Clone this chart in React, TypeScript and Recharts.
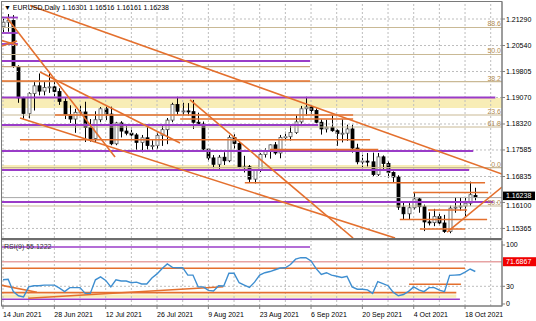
import React from 'react';
import { ComposedChart, Bar, Line, XAxis, YAxis, ReferenceLine, ReferenceArea } from 'recharts';

// ---------- data ----------
const opens = [
  1.2107, 1.2120, 1.2125, 1.1995, 1.1906,
  1.1862, 1.1918, 1.1940, 1.1925, 1.1935,
  1.1937, 1.1924, 1.1896, 1.1858, 1.1846,
  1.1865, 1.1866, 1.1822, 1.1791, 1.1844,
  1.1875, 1.1860, 1.1776, 1.1835, 1.1812,
  1.1806, 1.1801, 1.1780, 1.1793, 1.1771,
  1.1771, 1.1800, 1.1816, 1.1843, 1.1887,
  1.1868, 1.1869, 1.1867, 1.1837, 1.1832,
  1.1761, 1.1736, 1.1718, 1.1738, 1.1728,
  1.1794, 1.1777, 1.1711, 1.1711, 1.1676,
  1.1701, 1.1746, 1.1754, 1.1773, 1.1750,
  1.1794, 1.1796, 1.1808, 1.1838, 1.1875,
  1.1880, 1.1870, 1.1837, 1.1818, 1.1823,
  1.1813, 1.1805, 1.1806, 1.1818, 1.1764,
  1.1725, 1.1727, 1.1725, 1.1689, 1.1739,
  1.1720, 1.1695, 1.1682, 1.1597, 1.1578,
  1.1595, 1.1620, 1.1598, 1.1555, 1.1553,
  1.1570, 1.1552, 1.1528, 1.1594, 1.1597,
  1.1600, 1.1608, 1.16301,
];
const highs = [
  1.2130, 1.2143, 1.2140, 1.1998, 1.1909,
  1.1922, 1.1954, 1.1975, 1.1953, 1.1975,
  1.1952, 1.1933, 1.1905, 1.1885, 1.1875,
  1.1884, 1.1895, 1.1846, 1.1868, 1.1880,
  1.1881, 1.1881, 1.1838, 1.1840, 1.1827,
  1.1822, 1.1806, 1.1801, 1.1832, 1.1786,
  1.1808, 1.1830, 1.1849, 1.1892, 1.1909,
  1.1892, 1.1891, 1.1900, 1.1864, 1.1839,
  1.1764, 1.1744, 1.1744, 1.1752, 1.1800,
  1.1803, 1.1783, 1.1742, 1.1716, 1.1703,
  1.1750, 1.1763, 1.1774, 1.1781, 1.1801,
  1.1810, 1.1830, 1.1857, 1.1883, 1.1909,
  1.1884, 1.1876, 1.1845, 1.1844, 1.1857,
  1.1817, 1.1845, 1.1830, 1.1830, 1.1776,
  1.1745, 1.1750, 1.1751, 1.1750, 1.1743,
  1.1727, 1.1698, 1.1687, 1.1610, 1.1608,
  1.1640, 1.1624, 1.1604, 1.1582, 1.1592,
  1.1581, 1.1575, 1.1601, 1.1625, 1.1624,
  1.1624, 1.1669, 1.16516,
];
const lows = [
  1.2092, 1.2093, 1.1991, 1.1892, 1.1847,
  1.1848, 1.1870, 1.1913, 1.1913, 1.1920,
  1.1910, 1.1886, 1.1846, 1.1835, 1.1807,
  1.1856, 1.1781, 1.1782, 1.1781, 1.1837,
  1.1843, 1.1772, 1.1772, 1.1794, 1.1800,
  1.1791, 1.1753, 1.1752, 1.1760, 1.1755,
  1.1761, 1.1770, 1.1775, 1.1837, 1.1858,
  1.1856, 1.1855, 1.1818, 1.1830, 1.1755,
  1.1726, 1.1707, 1.1705, 1.1716, 1.1724,
  1.1762, 1.1707, 1.1695, 1.1665, 1.1664,
  1.1696, 1.1737, 1.1734, 1.1745, 1.1735,
  1.1785, 1.1785, 1.1804, 1.1826, 1.1855,
  1.1860, 1.1834, 1.1802, 1.1808, 1.1810,
  1.1770, 1.1780, 1.1784, 1.1751, 1.1718,
  1.1700, 1.1712, 1.1684, 1.1685, 1.1701,
  1.1679, 1.1668, 1.1589, 1.1563, 1.1562,
  1.1590, 1.1581, 1.1529, 1.1545, 1.1543,
  1.1545, 1.1524, 1.1523, 1.1581, 1.1587,
  1.1571, 1.1601, 1.16161,
];
const closes = [
  1.2120, 1.2125, 1.1995, 1.1906, 1.1862,
  1.1918, 1.1940, 1.1925, 1.1935, 1.1937,
  1.1924, 1.1896, 1.1858, 1.1846, 1.1865,
  1.1866, 1.1822, 1.1791, 1.1844, 1.1875,
  1.1860, 1.1776, 1.1835, 1.1812, 1.1806,
  1.1801, 1.1780, 1.1793, 1.1771, 1.1771,
  1.1800, 1.1816, 1.1843, 1.1887, 1.1868,
  1.1869, 1.1867, 1.1837, 1.1832, 1.1761,
  1.1736, 1.1718, 1.1738, 1.1728, 1.1794,
  1.1777, 1.1711, 1.1711, 1.1676, 1.1701,
  1.1746, 1.1754, 1.1773, 1.1750, 1.1794,
  1.1796, 1.1808, 1.1838, 1.1875, 1.1880,
  1.1870, 1.1837, 1.1818, 1.1823, 1.1813,
  1.1805, 1.1806, 1.1818, 1.1764, 1.1725,
  1.1727, 1.1725, 1.1689, 1.1739, 1.1720,
  1.1695, 1.1682, 1.1597, 1.1578, 1.1595,
  1.1620, 1.1598, 1.1555, 1.1553, 1.1570,
  1.1552, 1.1528, 1.1594, 1.1597, 1.1600,
  1.1608, 1.1632, 1.16238,
];
const rsiValues = [
  41, 42, 21, 14, 12,
  29, 31, 31, 32, 32,
  32, 27, 21, 27.7, 27.7,
  27.7, 18, 18, 41, 46,
  40, 29, 41, 39, 39,
  36, 37, 34, 34, 44,
  51, 60, 68, 62, 61.5,
  61.5, 49, 49, 29, 29,
  23, 22, 31, 30.5, 52,
  52, 36, 32, 28, 37,
  49, 53, 55, 58, 61,
  61.5, 67, 76, 78.5, 78.5,
  73, 60, 50, 53, 49,
  47, 45, 47, 29, 25,
  25, 24, 18, 38, 34.5,
  31, 20, 14, 16, 21.5,
  29, 24, 21, 27.7, 27.7,
  23.5, 21, 48.5, 49, 49.5,
  54, 59.3, 55.1,
];

const priceTicks = [1.15365, 1.161, 1.16835, 1.17585, 1.1832, 1.1907, 1.19805, 1.2054, 1.2129];
const rsiTicks = [0, 30, 100];
const dateTickIdx = [0, 10, 20, 30, 40, 50, 60, 70, 80, 90];
const dateTickLabels = ['14 Jun 2021', '28 Jun 2021', '12 Jul 2021', '26 Jul 2021', '9 Aug 2021', '23 Aug 2021', '6 Sep 2021', '20 Sep 2021', '4 Oct 2021', '18 Oct 2021'];
const weekIdx = [0, 5, 10, 15, 20, 25, 30, 35, 40, 45, 50, 55, 60, 65, 70, 75, 80, 85, 90, 95];

const headerText = '\u25BC EURUSD,Daily  1.16301 1.16516 1.16161 1.16238';
const rsiHeader = 'RSI(9) 55.1222';
const lastPrice = 1.16238;
const rsiMarker = 71.6867;

// drawn objects (data units: bar index, price)
const purpleLevels = [
  { p: 1.21332, from: -1, to: 2.9 },
  { p: 1.20894, from: -1, to: 2.9 },
  { p: 1.20583, from: -1, to: 2.9 },
  { p: 1.20102, from: -1, to: 59.8 },
  { p: 1.19069, from: -1, to: 95.9 },
  { p: 1.18291, from: -1, to: 61.4 },
  { p: 1.17556, from: -1, to: 91.6 },
  { p: 1.17019, from: -1, to: 90.8 },
  { p: 1.16113, from: -1, to: 95.5 },
];
const orangeLevels = [
  { p: 1.19536, from: -1, to: 59.8 },
  { p: 1.18574, from: 10.1, to: 68.2 },
  { p: 1.18461, from: 34.5, to: 68.2 },
  { p: 1.17874, from: 3.3, to: 71.5 },
  { p: 1.17596, from: 52, to: 73.1 },
  { p: 1.16659, from: 47.1, to: 93.9 },
  { p: 1.16382, from: 79.9, to: 94.5 },
  { p: 1.15887, from: 82.8, to: 90.4 },
  { p: 1.15618, from: 77.3, to: 94.3 },
  { p: 1.15349, from: 81.2, to: 90 },
];
const fibLevels = [
  { p: 1.2105, label: '88.6' },
  { p: 1.20286, label: '50.0' },
  { p: 1.19516, label: '38.2' },
  { p: 1.18574, label: '23.6' },
  { p: 1.18235, label: '61.8' },
  { p: 1.17085, label: '0.0' },
  { p: 1.16, label: '50.0' },
];
const tanSegments = [{ p: 1.19941, from: -1, to: 59.8 }];
const trendLines = [
  { i1: 5.26, p1: 1.21672, i2: 97.2, p2: 1.16905 },
  { i1: 3.31, p1: 1.18489, i2: 76.37, p2: 1.15095 },
  { i1: 7.21, p1: 1.19791, i2: 34.48, p2: 1.17782 },
  { i1: 0.78, p1: 1.21318, i2: 21.82, p2: 1.17386 },
  { i1: 36.43, p1: 1.19, i2: 68.19, p2: 1.15095 },
  { i1: 86.5, p1: 1.15264, i2: 97.2, p2: 1.16537 },
  { i1: -0.6, p1: 1.20696, i2: 2.73, p2: 1.20555 },
  { i1: -0.2, p1: 1.20526, i2: 2.73, p2: 1.20668 },
];
const yellowZones = [
  { i1: -1, i2: 97.2, p1: 1.18772, p2: 1.19055 },
  { i1: -1, i2: 90.9, p1: 1.17019, p2: 1.1716 },
];
const rsiPurple = [
  { v: 96.6, from: -1, to: 59.8 },
  { v: 8, from: -1, to: 89 },
];
const rsiOrange = [
  { v: 60.5, from: -1, to: 90 },
  { v: 33.4, from: 79.1, to: 89.2 },
  { v: 19.2, from: -1, to: 88.3 },
];
const rsiYellow = [{ v1: 10.5, v2: 16, from: -1, to: 88.3 }];
const rsiTrend = [
  { i1: -0.6, v1: 32.2, i2: 6.6, v2: 19.8 },
  { i1: 4.9, v1: 9.7, i2: 42.9, v2: 29.3 },
];

const rows = opens.map((o, i) => ({
  i,
  o,
  h: highs[i],
  l: lows[i],
  c: closes[i],
  range: [lows[i], highs[i]],
  rsi: rsiValues[i],
}));

// ---------- styles ----------
const FONT = '"Liberation Sans", Arial, sans-serif';
const ORANGE = '#E4702E';
const PURPLE = '#9A3CC8';
const TAN = '#C9B995';
const FIBTXT = '#B08A50';
const YELLOW = '#F8EDB6';
const GRID = '#BDBDBD';
const X_DOMAIN: [number, number] = [-0.2, 97.2];
const P_DOMAIN: [number, number] = [1.15095, 1.21771];
const R_DOMAIN: [number, number] = [-3.4, 106.8];

const Candle = (props: any) => {
  const { x, y, width, height, payload } = props;
  if (!payload || x == null) return null;
  const { o, h, l, c } = payload;
  const top = Math.min(y, y + height);
  const hh = Math.abs(height);
  const k = h - l > 0 ? hh / (h - l) : 0;
  const cx = Math.round(x + width / 2) + 0.5;
  const yO = top + (h - o) * k;
  const yC = top + (h - c) * k;
  const bt = Math.min(yO, yC);
  const bh = Math.max(1, Math.abs(yO - yC));
  const bull = c >= o;
  return (
    <g>
      <line x1={cx} x2={cx} y1={top} y2={top + hh} stroke="#000" strokeWidth={1} />
      <rect x={cx - 1.5} y={bt} width={3} height={bh} fill={bull ? '#fff' : '#000'} stroke={bull ? '#555' : '#000'} strokeWidth={0.8} />
    </g>
  );
};

const PriceTick = (props: any) => {
  const { x, y, payload } = props;
  const v = payload.value;
  // the current-price box sits just above this level, so its label is nudged down
  const shift = Math.abs(v - 1.161) < 1e-6 ? 3 : 0;
  return (
    <text x={x} y={y + 2.5 + shift} fontSize={7} fontFamily={FONT} fill="#000" textAnchor="start">
      {v.toFixed(5)}
    </text>
  );
};

const DateTick = (props: any) => {
  const { x, y, payload } = props;
  const idx = dateTickIdx.indexOf(payload.value);
  return (
    <text x={x} y={y + 6} fontSize={7} fontFamily={FONT} fill="#000" textAnchor="start">
      {idx >= 0 ? dateTickLabels[idx] : ''}
    </text>
  );
};

const PriceBox = (props: any) => {
  const { viewBox } = props;
  const yy = viewBox.y;
  const xx = viewBox.x + viewBox.width;
  return (
    <g>
      <rect x={xx + 1} y={yy - 6} width={32} height={8.5} fill="#000" />
      <text x={xx + 4} y={yy + 0.5} fontSize={7} fontFamily={FONT} fill="#fff">{lastPrice.toFixed(5)}</text>
    </g>
  );
};

const RsiBox = (props: any) => {
  const { viewBox } = props;
  const yy = viewBox.y;
  const xx = viewBox.x + viewBox.width;
  return (
    <g>
      <rect x={xx + 1} y={yy - 4.5} width={33} height={9} fill="#F00000" />
      <text x={xx + 4} y={yy + 2.5} fontSize={7} fontFamily={FONT} fill="#fff">{rsiMarker.toFixed(4)}</text>
    </g>
  );
};

export default function App() {
  return (
    <div style={{ position: 'fixed', left: 0, top: 0, width: 536, height: 321, background: '#fff', overflow: 'hidden' }}>
      <div style={{ position: 'absolute', left: 0, top: 0 }}>
        <ComposedChart width={536} height={240} data={rows} margin={{ top: 2, right: 0, left: 2, bottom: 2 }}>
          <XAxis dataKey="i" type="number" domain={X_DOMAIN} allowDataOverflow hide />
          <YAxis
            orientation="right"
            width={34}
            domain={P_DOMAIN}
            allowDataOverflow
            ticks={priceTicks}
            interval={0}
            tick={<PriceTick />}
            tickSize={3}
            tickMargin={1}
            stroke="#808080"
          />
          {yellowZones.map((z, k) => (
            <ReferenceArea key={'yz' + k} x1={z.i1} x2={z.i2} y1={z.p1} y2={z.p2} fill={YELLOW} fillOpacity={1} stroke="none" ifOverflow="hidden" />
          ))}
          {priceTicks.map((t) => (
            <ReferenceLine key={'hg' + t} y={t} stroke={GRID} strokeDasharray="2 2" strokeWidth={1} />
          ))}
          {weekIdx.map((w) => (
            <ReferenceLine key={'vg' + w} x={w} stroke={GRID} strokeDasharray="2 2" strokeWidth={1} ifOverflow="hidden" />
          ))}
          {fibLevels.map((f, k) => (
            <ReferenceLine
              key={'fib' + k}
              y={f.p}
              stroke={TAN}
              strokeWidth={1.2}
              label={{ value: f.label, position: 'insideBottomRight', fill: FIBTXT, fontSize: 7, fontFamily: FONT, offset: 1 }}
            />
          ))}
          {tanSegments.map((s, k) => (
            <ReferenceLine key={'tan' + k} segment={[{ x: s.from, y: s.p }, { x: s.to, y: s.p }]} stroke="#C8A27A" strokeWidth={1.2} ifOverflow="hidden" />
          ))}
          <ReferenceLine y={lastPrice} stroke="#A8A8A8" strokeWidth={1} label={<PriceBox />} />
          {purpleLevels.map((s, k) => (
            <ReferenceLine key={'pu' + k} segment={[{ x: s.from, y: s.p }, { x: s.to, y: s.p }]} stroke={PURPLE} strokeWidth={1.8} ifOverflow="hidden" />
          ))}
          {orangeLevels.map((s, k) => (
            <ReferenceLine key={'or' + k} segment={[{ x: s.from, y: s.p }, { x: s.to, y: s.p }]} stroke={ORANGE} strokeWidth={1.6} ifOverflow="hidden" />
          ))}
          {trendLines.map((s, k) => (
            <ReferenceLine key={'tr' + k} segment={[{ x: s.i1, y: s.p1 }, { x: s.i2, y: s.p2 }]} stroke={ORANGE} strokeWidth={1.6} ifOverflow="hidden" />
          ))}
          <Bar dataKey="range" barSize={3} shape={<Candle />} isAnimationActive={false} />
        </ComposedChart>
      </div>
      <div style={{ position: 'absolute', left: 0, top: 240 }}>
        <ComposedChart width={536} height={81} data={rows} margin={{ top: 1, right: 0, left: 2, bottom: 0 }}>
          <XAxis
            dataKey="i"
            type="number"
            domain={X_DOMAIN}
            allowDataOverflow
            ticks={dateTickIdx}
            interval={0}
            height={15}
            tick={<DateTick />}
            tickSize={3}
            stroke="#808080"
          />
          <YAxis
            orientation="right"
            width={34}
            domain={R_DOMAIN}
            allowDataOverflow
            ticks={rsiTicks}
            interval={0}
            tick={{ fontSize: 7, fill: '#000', fontFamily: FONT }}
            tickSize={3}
            tickMargin={1}
            stroke="#808080"
          />
          {rsiYellow.map((z, k) => (
            <ReferenceArea key={'ry' + k} x1={z.from} x2={z.to} y1={z.v1} y2={z.v2} fill={YELLOW} fillOpacity={1} stroke="none" ifOverflow="hidden" />
          ))}
          {weekIdx.map((w) => (
            <ReferenceLine key={'rvg' + w} x={w} stroke={GRID} strokeDasharray="2 2" strokeWidth={1} ifOverflow="hidden" />
          ))}
          <ReferenceLine y={30} stroke={GRID} strokeDasharray="2 2" />
          <ReferenceLine y={rsiMarker} stroke="#E7A3A3" strokeWidth={1.4} label={<RsiBox />} />
          {rsiPurple.map((s, k) => (
            <ReferenceLine key={'rp' + k} segment={[{ x: s.from, y: s.v }, { x: s.to, y: s.v }]} stroke={PURPLE} strokeWidth={1.6} ifOverflow="hidden" />
          ))}
          {rsiOrange.map((s, k) => (
            <ReferenceLine key={'ro' + k} segment={[{ x: s.from, y: s.v }, { x: s.to, y: s.v }]} stroke={ORANGE} strokeWidth={1.6} ifOverflow="hidden" />
          ))}
          {rsiTrend.map((s, k) => (
            <ReferenceLine key={'rt' + k} segment={[{ x: s.i1, y: s.v1 }, { x: s.i2, y: s.v2 }]} stroke={ORANGE} strokeWidth={1.6} ifOverflow="hidden" />
          ))}
          <Line dataKey="rsi" type="linear" stroke="#3E8ED0" strokeWidth={1.4} dot={false} isAnimationActive={false} />
        </ComposedChart>
      </div>
      <svg width={536} height={321} style={{ position: 'absolute', left: 0, top: 0, pointerEvents: 'none' }}>
        <rect x={1.5} y={1.5} width={500.5} height={304.5} fill="none" stroke="#7A7A7A" strokeWidth={1} />
        <rect x={1} y={238} width={501} height={2.2} fill="#6E6E6E" />
        <text x={4} y={9.5} fontSize={7} fontFamily={FONT} fill="#000">{headerText}</text>
        <text x={4} y={249} fontSize={7} fontFamily={FONT} fill="#333">{rsiHeader}</text>
      </svg>
    </div>
  );
}
